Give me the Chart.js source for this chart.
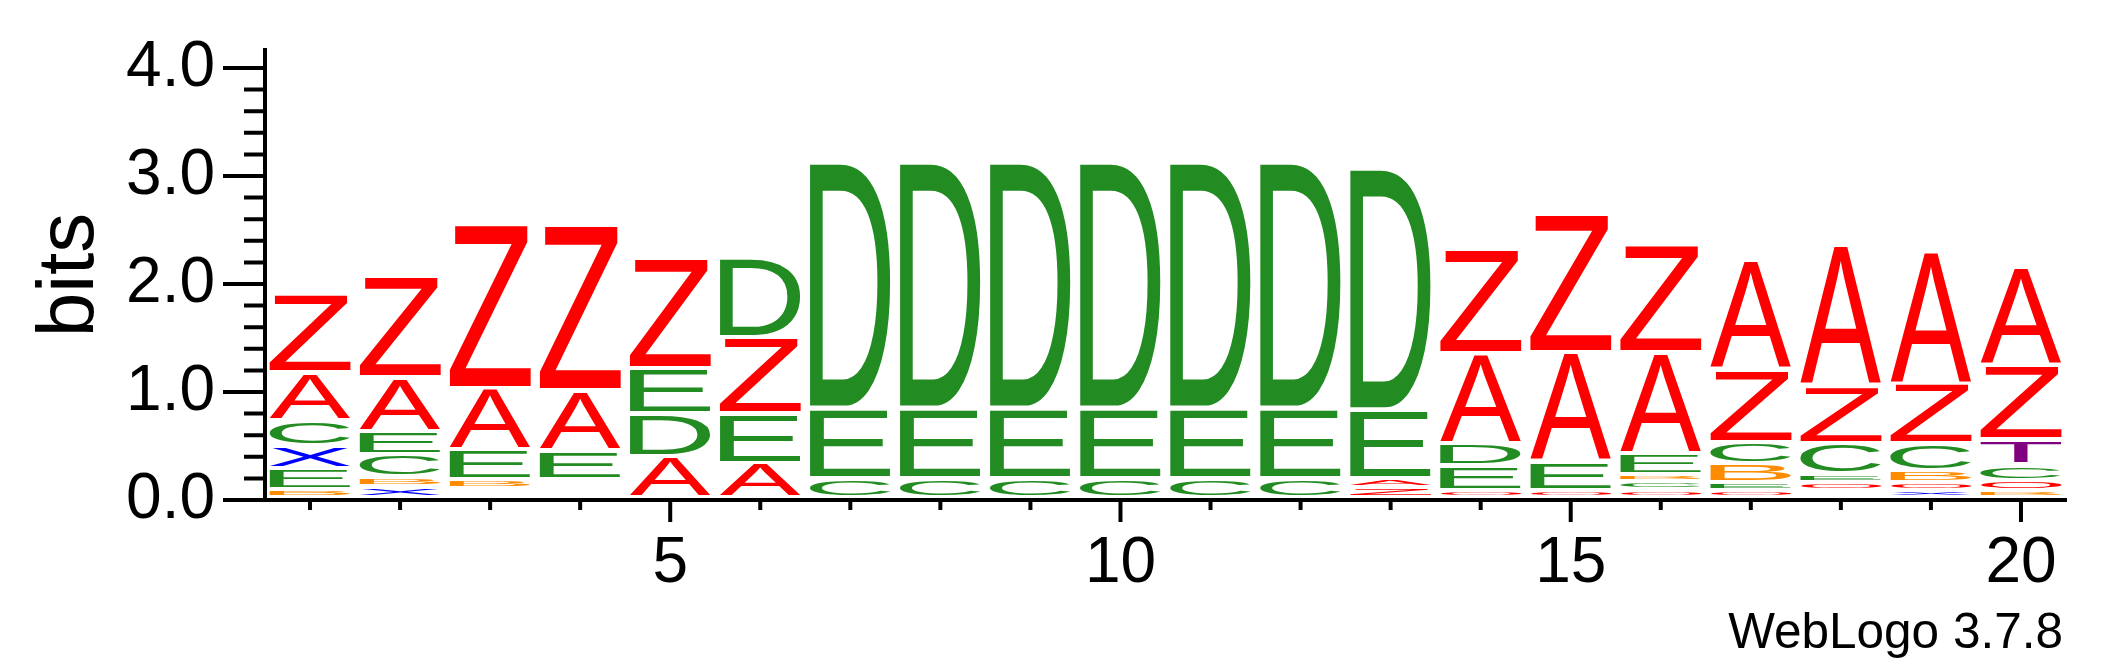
<!DOCTYPE html>
<html>
<head>
<meta charset="utf-8">
<title>WebLogo</title>
<script src="https://cdn.jsdelivr.net/npm/chart.js@4.4.1/dist/chart.umd.min.js"></script>
<style>
  body { margin: 0; background: #fff; }
  canvas { display: block; }
</style>
</head>
<body>
<canvas id="logo-chart" width="2117" height="667"></canvas>
<script>
// sequence positions (x categories)
const positions = ['1', '2', '3', '4', '5', '6', '7', '8', '9', '10',
                   '11', '12', '13', '14', '15', '16', '17', '18', '19', '20'];

// letters of each stack, bottom -> top
const stackLetters = [
    'BEXCAZ', 'XBCEAZ', 'XCBEAZ', 'XCDBEAZ', 'ADEZ', 'AEZD',
    'CED', 'CED', 'CED', 'CED', 'CED', 'CED', 'ZAED',
    'OEDAZ', 'OEAZ', 'OCBEAZ', 'OEBCZA', 'XBOECZA', 'XOBCZA', 'BOCTZA'
];

// height of each letter in bits, same order as stackLetters
const stackBits = [
    [0.083, 0.194, 0.210, 0.231, 0.442, 0.725],
    [0.102, 0.093, 0.206, 0.217, 0.494, 0.947],
    [0.045, 0.040, 0.083, 0.278, 0.571, 1.528],
    [0.045, 0.040, 0.037, 0.046, 0.269, 0.556, 1.533],
    [0.386, 0.394, 0.423, 1.028],
    [0.324, 0.456, 0.710, 0.741],
    [0.185, 0.648, 2.278],
    [0.185, 0.648, 2.278],
    [0.185, 0.648, 2.278],
    [0.185, 0.648, 2.278],
    [0.185, 0.648, 2.278],
    [0.185, 0.648, 2.278],
    [0.100, 0.085, 0.632, 2.238],
    [0.068, 0.231, 0.210, 0.833, 0.966],
    [0.074, 0.266, 1.009, 1.290],
    [0.074, 0.080, 0.068, 0.194, 0.932, 1.006],
    [0.068, 0.071, 0.179, 0.198, 0.672, 1.009],
    [0.035, 0.035, 0.075, 0.077, 0.287, 0.530, 1.296],
    [0.065, 0.075, 0.108, 0.253, 0.558, 1.226],
    [0.068, 0.096, 0.144, 0.231, 0.694, 0.905]
];

const yTickValues = [0, 1, 2, 3, 4];

const letterColors = {
    A: '#ff0000', Z: '#ff0000', O: '#ff0000',
    C: '#228b22', D: '#228b22', E: '#228b22',
    X: '#0000ff', B: '#ff8c00', T: '#800080'
};

const letterGap = 4.5;   // white space under each glyph, px
const fontName = '"Liberation Sans", Arial, sans-serif';

// one stacked dataset per level of the stacks
const levels = Math.max(...stackLetters.map(s => s.length));
const datasets = [];
for (let k = 0; k < levels; k++) {
    datasets.push({
        label: 'level ' + k,
        data: stackBits.map(col => (k < col.length ? col[k] : null)),
        backgroundColor: 'rgba(0,0,0,0)',
        borderWidth: 0,
        barPercentage: 0.9,
        categoryPercentage: 1.0,
        stack: 'logo'
    });
}

// draws each letter stretched into its bar box
const logoLetters = {
    id: 'logoLetters',
    afterDatasetsDraw(chart) {
        const ctx = chart.ctx;
        chart.data.datasets.forEach((ds, level) => {
            const meta = chart.getDatasetMeta(level);
            meta.data.forEach((bar, i) => {
                const letter = stackLetters[i][level];
                if (!letter) return;
                const p = bar.getProps(['x', 'y', 'base', 'width'], true);
                const top = Math.min(p.y, p.base);
                const bottom = Math.max(p.y, p.base) - letterGap;
                const h = bottom - top;
                if (h < 0.5) return;
                ctx.save();
                ctx.font = '100px ' + fontName;
                ctx.textAlign = 'left';
                ctx.textBaseline = 'alphabetic';
                const m = ctx.measureText(letter);
                const gw = m.actualBoundingBoxLeft + m.actualBoundingBoxRight;
                const gh = m.actualBoundingBoxAscent + m.actualBoundingBoxDescent;
                ctx.translate(p.x - p.width / 2, bottom);
                ctx.scale(p.width / gw, h / gh);
                ctx.fillStyle = letterColors[letter];
                ctx.fillText(letter, m.actualBoundingBoxLeft, -m.actualBoundingBoxDescent);
                ctx.restore();
            });
        });
    }
};

// long/short tick marks + version note
const axisTicks = {
    id: 'axisTicks',
    afterDraw(chart) {
        const { ctx, chartArea, scales } = chart;
        ctx.save();
        ctx.strokeStyle = '#000';
        ctx.lineWidth = 4;
        ctx.beginPath();
        for (let k = 0; k <= 20; k++) {
            const y = scales.y.getPixelForValue(k / 5);
            const len = k % 5 === 0 ? 42 : 21;
            ctx.moveTo(chartArea.left - len, y);
            ctx.lineTo(chartArea.left, y);
        }
        positions.forEach((pos, i) => {
            const x = scales.x.getPixelForValue(i);
            const len = (i + 1) % 5 === 0 ? 22 : 10;
            ctx.moveTo(x, chartArea.bottom);
            ctx.lineTo(x, chartArea.bottom + len);
        });
        ctx.stroke();

        ctx.fillStyle = '#000';
        ctx.font = '49.5px ' + fontName;
        ctx.textAlign = 'right';
        ctx.textBaseline = 'alphabetic';
        ctx.fillText('WebLogo 3.7.8', chartArea.right - 3, 648);
        ctx.restore();
    }
};

new Chart(document.getElementById('logo-chart'), {
    type: 'bar',
    data: {
        labels: positions,
        datasets: datasets
    },
    options: {
        responsive: false,
        animation: false,
        events: [],
        layout: {
            padding: { left: 0, right: 51, top: 50, bottom: 0 }
        },
        plugins: {
            legend: { display: false },
            tooltip: { enabled: false }
        },
        scales: {
            x: {
                stacked: true,
                afterFit: (scale) => { scale.height = 167; },
                border: { display: true, color: '#000', width: 4 },
                grid: { drawOnChartArea: false, drawTicks: true, tickLength: 22, tickColor: 'rgba(0,0,0,0)' },
                ticks: {
                    autoSkip: false,
                    maxRotation: 0,
                    padding: 4,
                    color: '#000',
                    font: { family: fontName, size: 64 },
                    callback: function (value, index) {
                        return (index + 1) % 5 === 0 ? this.getLabelForValue(value) : '';
                    }
                }
            },
            y: {
                stacked: true,
                min: 0,
                max: 450 / 108,
                afterFit: (scale) => { scale.width = 265; },
                border: { display: true, color: '#000', width: 4 },
                grid: { drawOnChartArea: false, drawTicks: true, tickLength: 42, tickColor: 'rgba(0,0,0,0)' },
                afterBuildTicks: (scale) => {
                    scale.ticks = yTickValues.map(v => ({ value: v }));
                },
                ticks: {
                    padding: 8,
                    color: '#000',
                    font: { family: fontName, size: 64 },
                    callback: (v) => Number(v).toFixed(1)
                },
                title: {
                    display: true,
                    text: 'bits',
                    color: '#000',
                    font: { family: fontName, size: 80 },
                    padding: { top: 23, bottom: 0 }
                }
            }
        }
    },
    plugins: [logoLetters, axisTicks]
});
</script>
</body>
</html>
